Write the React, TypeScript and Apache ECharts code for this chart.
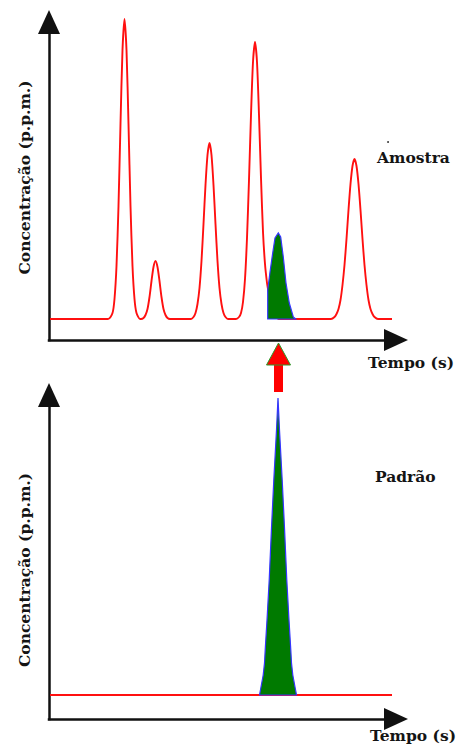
import { useEffect, useRef } from "react";
import * as echarts from "echarts";

// ---- Amostra (top panel): time units = px along axis, concentration arbitrary ----
const amostraInicio = [[1, 21]];
const pico1 = [[59, 21], [63.5, 27], [65.5, 41], [67.5, 74], [69.5, 134], [71.5, 216], [73.5, 290], [75.5, 321], [77.5, 290], [79.5, 216], [81.5, 134], [83.5, 74], [85.5, 41], [87.5, 27], [91, 21]];
const pico2 = [[92, 21], [94.5, 22], [96.5, 25], [98.5, 31], [100.5, 43], [102.5, 59], [104.5, 73], [106.5, 79], [108.5, 73], [110.5, 59], [112.5, 43], [114.5, 31], [116.5, 25], [118.5, 22], [121, 21]];
const pico3 = [[142, 21], [144.5, 23], [146.5, 27], [148.5, 36], [150.5, 52], [152.5, 79], [154.5, 116], [156.5, 155], [158.5, 185], [160.5, 197], [162.5, 185], [164.5, 155], [166.5, 116], [168.5, 79], [170.5, 52], [172.5, 36], [174.5, 27], [176.5, 23], [179, 21]];
const pico4 = [[187, 21], [190, 23], [192, 27], [194, 38], [196, 61], [198, 102], [200, 160], [202, 225], [204, 278], [206, 298], [208, 278], [210, 225], [212, 162], [214, 108], [216, 76], [218, 57], [219, 51], [222, 35], [226, 25], [230, 21]];
const pico5 = [[282, 21], [285.5, 23], [287.5, 26], [289.5, 31], [291.5, 40], [293.5, 55], [295.5, 75], [297.5, 101], [299.5, 130], [301.5, 156], [303.5, 174], [305.5, 181], [307.5, 174], [309.5, 156], [311.5, 130], [313.5, 101], [315.5, 75], [317.5, 55], [319.5, 40], [321.5, 31], [323.5, 26], [325.5, 23], [329, 21], [343, 21]];
// analyte peak inside the sample (green)
const picoAnalitoAmostra = [[218.7, 21], [218.7, 50], [221, 68], [223.7, 87], [226, 102], [229.3, 107], [231.7, 103], [234.3, 83], [237, 57], [240.3, 37], [244.3, 23], [246.7, 21]];

// ---- Padrão (bottom panel) ----
const padraoBase = [[1, 24], [343, 24]];
const picoPadrao = [[210.5, 24], [212, 32], [214.2, 44], [215.5, 56], [216.2, 69], [218, 99], [220.2, 139], [222.4, 189], [224.8, 239], [227.5, 289], [229, 321], [230.5, 289], [233.2, 239], [235.6, 189], [237.8, 139], [240, 99], [241.8, 69], [242.5, 56], [243.8, 44], [246, 32], [247.5, 24]];

const rotuloY = "Concentração (p.p.m.)";
const rotuloX = "Tempo (s)";
const nomeAmostra = "Amostra";
const nomePadrao = "Padrão";

export default function App() {
  const ref = useRef<HTMLDivElement>(null);
  useEffect(() => {
    const chart = echarts.init(ref.current!, null, { renderer: "svg" });
    const font = '"DejaVu Serif", serif';
    const txtColor = "#141414";
    const axisLine = {
      show: true,
      onZero: false,
      symbol: ["none", "triangle"],
      symbolSize: [22, 24],
      lineStyle: { color: "#111", width: 2.5, cap: "square" },
    };
    const hidden = {
      axisTick: { show: false },
      axisLabel: { show: false },
      splitLine: { show: false },
    };
    const red = { color: "#ff1010", width: 1.9 };
    const greenStyle = { fill: "#007a00", stroke: "#3535ff", lineWidth: 1.2 };
    const label = (t: string, x: number, y: number) => ({
      type: "text",
      x,
      y,
      style: { text: t, fill: txtColor, font: `bold 15.5px ${font}`, align: "left", verticalAlign: "middle" },
    });
    const labelY = (y: number) => ({
      type: "text",
      x: 24,
      y,
      rotation: Math.PI / 2,
      style: { text: rotuloY, fill: txtColor, font: `bold 15.5px ${font}`, align: "center", verticalAlign: "middle" },
    });

    chart.setOption({
      animation: false,
      backgroundColor: "#fff",
      grid: [
        { left: 49, top: 22, width: 347, height: 318 },
        { left: 49, top: 395, width: 347, height: 324 },
      ],
      xAxis: [
        { gridIndex: 0, type: "value", min: 0, max: 347, axisLine, ...hidden },
        { gridIndex: 1, type: "value", min: 0, max: 347, axisLine, ...hidden },
      ],
      yAxis: [
        { gridIndex: 0, type: "value", min: 0, max: 318, axisLine, ...hidden },
        { gridIndex: 1, type: "value", min: 0, max: 324, axisLine, ...hidden },
      ],
      series: [
        {
          type: "line",
          xAxisIndex: 0,
          yAxisIndex: 0,
          data: [...amostraInicio, ...pico1, ...pico2, ...pico3, ...pico4, ...pico5],
          symbol: "none",
          smooth: 0.25,
          clip: false,
          lineStyle: red,
          z: 2,
        },
        {
          type: "custom",
          xAxisIndex: 0,
          yAxisIndex: 0,
          data: [[229, 107]],
          z: 3,
          renderItem: (_p: any, api: any) => ({
            type: "polygon",
            shape: { points: picoAnalitoAmostra.map((p) => api.coord(p)) },
            style: greenStyle,
          }),
        },
        {
          type: "line",
          xAxisIndex: 1,
          yAxisIndex: 1,
          data: padraoBase,
          symbol: "none",
          lineStyle: red,
          z: 2,
        },
        {
          type: "custom",
          xAxisIndex: 1,
          yAxisIndex: 1,
          data: [[229, 321]],
          z: 3,
          renderItem: (_p: any, api: any) => ({
            type: "polygon",
            shape: { points: picoPadrao.map((p) => api.coord(p)) },
            style: greenStyle,
          }),
        },
      ],
      graphic: [
        label(nomeAmostra, 377, 157),
        { type: "circle", shape: { cx: 388, cy: 142, r: 0.9 }, style: { fill: "#222" } },
        label(rotuloX, 368, 362),
        label(nomePadrao, 375, 476),
        label(rotuloX, 370, 735),
        labelY(177.5),
        labelY(570),
        // red arrow linking the two panels
        { type: "rect", shape: { x: 274, y: 364, width: 9, height: 28 }, style: { fill: "#ff0000" } },
        {
          type: "polygon",
          shape: { points: [[278.5, 343], [290.5, 365], [266.5, 365]] },
          style: { fill: "#ff0000", stroke: "#2a9a2a", lineWidth: 1 },
        },
      ],
    });
    return () => chart.dispose();
  }, []);
  return (
    <div
      ref={ref}
      style={{ position: "fixed", left: 0, top: 0, width: 456, height: 746, background: "#fff" }}
    />
  );
}
